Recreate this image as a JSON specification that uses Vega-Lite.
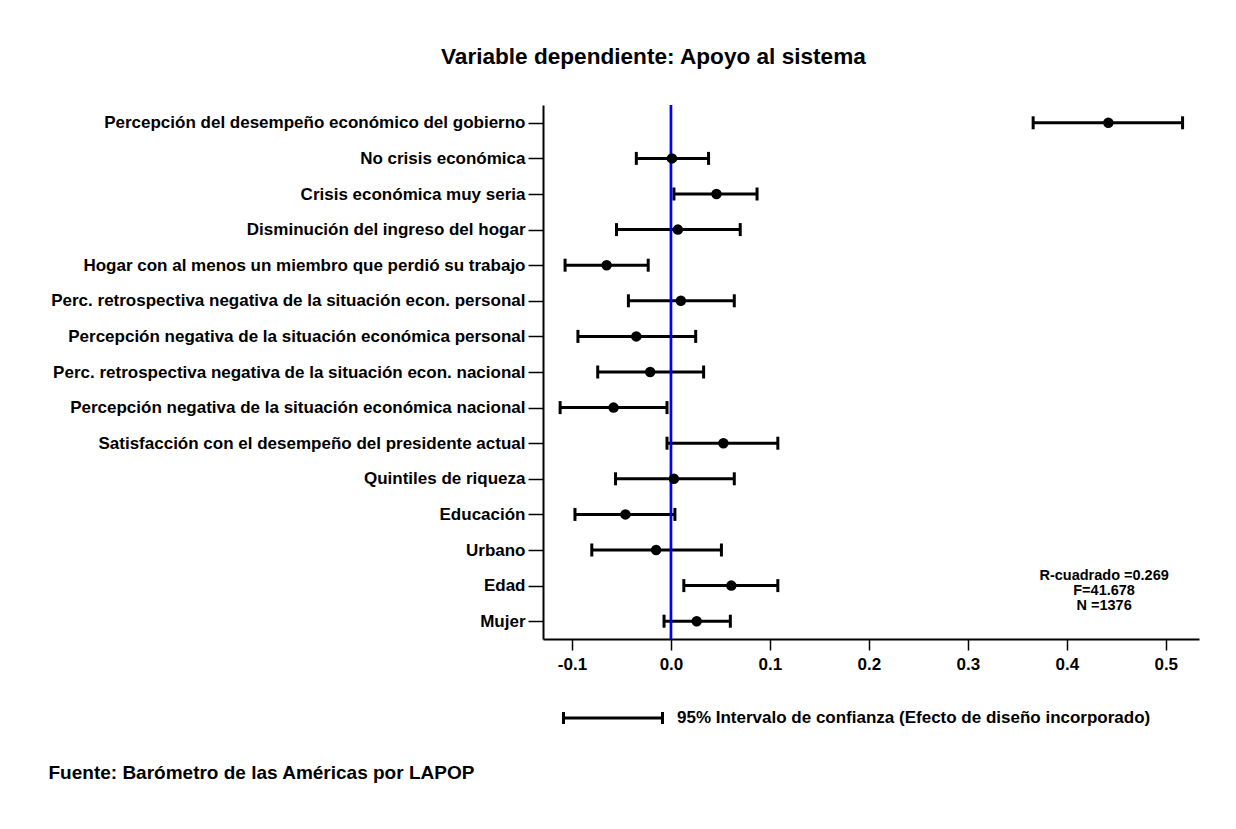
{
  "$schema": "https://vega.github.io/schema/vega-lite/v6.json",
  "width": 656,
  "height": 534,
  "autosize": "none",
  "padding": {"left": 543, "top": 105, "right": 37, "bottom": 190},
  "background": "white",
  "config": {"view": {"stroke": null}, "font": "Liberation Sans"},
  "title": {
    "text": "Variable dependiente: Apoyo al sistema",
    "anchor": "start",
    "frame": "group",
    "dx": -102,
    "offset": 17,
    "baseline": "alphabetic",
    "fontSize": 22.6,
    "fontWeight": "bold",
    "font": "Liberation Sans",
    "color": "black"
  },
  "datasets": {
    "coef": [
      {"var": "Percepción del desempeño económico del gobierno", "est": 0.442, "lo": 0.366, "hi": 0.517, "ci": "95% Intervalo de confianza (Efecto de diseño incorporado)"},
      {"var": "No crisis económica", "est": 0.001, "lo": -0.035, "hi": 0.038, "ci": "95% Intervalo de confianza (Efecto de diseño incorporado)"},
      {"var": "Crisis económica muy seria", "est": 0.046, "lo": 0.003, "hi": 0.087, "ci": "95% Intervalo de confianza (Efecto de diseño incorporado)"},
      {"var": "Disminución del ingreso del hogar", "est": 0.007, "lo": -0.055, "hi": 0.070, "ci": "95% Intervalo de confianza (Efecto de diseño incorporado)"},
      {"var": "Hogar con al menos un miembro que perdió su trabajo", "est": -0.065, "lo": -0.107, "hi": -0.023, "ci": "95% Intervalo de confianza (Efecto de diseño incorporado)"},
      {"var": "Perc. retrospectiva negativa de la situación econ. personal", "est": 0.010, "lo": -0.043, "hi": 0.064, "ci": "95% Intervalo de confianza (Efecto de diseño incorporado)"},
      {"var": "Percepción negativa de la situación económica personal", "est": -0.035, "lo": -0.094, "hi": 0.025, "ci": "95% Intervalo de confianza (Efecto de diseño incorporado)"},
      {"var": "Perc. retrospectiva negativa de la situación econ. nacional", "est": -0.021, "lo": -0.074, "hi": 0.033, "ci": "95% Intervalo de confianza (Efecto de diseño incorporado)"},
      {"var": "Percepción negativa de la situación económica nacional", "est": -0.058, "lo": -0.112, "hi": -0.004, "ci": "95% Intervalo de confianza (Efecto de diseño incorporado)"},
      {"var": "Satisfacción con el desempeño del presidente actual", "est": 0.053, "lo": -0.004, "hi": 0.108, "ci": "95% Intervalo de confianza (Efecto de diseño incorporado)"},
      {"var": "Quintiles de riqueza", "est": 0.003, "lo": -0.056, "hi": 0.064, "ci": "95% Intervalo de confianza (Efecto de diseño incorporado)"},
      {"var": "Educación", "est": -0.046, "lo": -0.097, "hi": 0.004, "ci": "95% Intervalo de confianza (Efecto de diseño incorporado)"},
      {"var": "Urbano", "est": -0.015, "lo": -0.080, "hi": 0.051, "ci": "95% Intervalo de confianza (Efecto de diseño incorporado)"},
      {"var": "Edad", "est": 0.061, "lo": 0.013, "hi": 0.108, "ci": "95% Intervalo de confianza (Efecto de diseño incorporado)"},
      {"var": "Mujer", "est": 0.026, "lo": -0.007, "hi": 0.060, "ci": "95% Intervalo de confianza (Efecto de diseño incorporado)"}
    ],
    "ref": [{"zero": 0}],
    "stats": [{"var": "Edad", "xpos": 0.4377, "txt": "R-cuadrado =0.269\nF=41.678\nN =1376"}]
  },
  "encoding": {
    "y": {
      "field": "var",
      "type": "nominal",
      "sort": null,
      "scale": {
        "type": "point",
        "padding": 0.5,
        "domain": [
          "Percepción del desempeño económico del gobierno",
          "No crisis económica",
          "Crisis económica muy seria",
          "Disminución del ingreso del hogar",
          "Hogar con al menos un miembro que perdió su trabajo",
          "Perc. retrospectiva negativa de la situación econ. personal",
          "Percepción negativa de la situación económica personal",
          "Perc. retrospectiva negativa de la situación econ. nacional",
          "Percepción negativa de la situación económica nacional",
          "Satisfacción con el desempeño del presidente actual",
          "Quintiles de riqueza",
          "Educación",
          "Urbano",
          "Edad",
          "Mujer"
        ]
      },
      "axis": {
        "title": null,
        "grid": false,
        "domainColor": "black",
        "domainWidth": 2,
        "tickColor": "black",
        "tickSize": 15,
        "tickWidth": 1.5,
        "labelFontSize": 17,
        "labelFontWeight": "bold",
        "labelColor": "black",
        "labelFont": "Liberation Sans",
        "labelPadding": 3,
        "labelLimit": 0
      }
    }
  },
  "layer": [
    {
      "data": {"name": "coef"},
      "mark": {"type": "rule", "strokeWidth": 3},
      "encoding": {
        "x": {
          "field": "lo",
          "type": "quantitative",
          "scale": {"domain": [-0.1293, 0.5336], "nice": false, "zero": false},
          "axis": {
            "values": [-0.1, 0, 0.1, 0.2, 0.3, 0.4, 0.5],
            "format": ".1f",
            "labelExpr": "replace(datum.label, '−', '-')",
            "grid": false,
            "domainColor": "black",
            "domainWidth": 2,
            "tickColor": "black",
            "tickSize": 11,
            "tickWidth": 1.5,
            "labelFontSize": 17,
            "labelFontWeight": "bold",
            "labelColor": "black",
            "labelFont": "Liberation Sans",
            "labelPadding": 6,
            "title": "Fuente: Barómetro de las Américas por LAPOP",
            "titleX": -495,
            "titleY": 139,
            "titleAlign": "left",
            "titleAnchor": "start",
            "titleBaseline": "alphabetic",
            "titleFontSize": 19,
            "titleFontWeight": "bold",
            "titleColor": "black",
            "titleFont": "Liberation Sans"
          }
        },
        "x2": {"field": "hi"},
        "color": {
          "field": "ci",
          "type": "nominal",
          "scale": {"range": ["black"]},
          "legend": {
            "orient": "none",
            "legendX": 19,
            "legendY": 562,
            "title": null,
            "padding": 0,
            "symbolType": "M-1,0H1M-1,-0.12V0.12M1,-0.12V0.12",
            "symbolSize": 9801,
            "symbolStrokeWidth": 3,
            "symbolStrokeColor": "black",
            "symbolFillColor": "transparent",
            "labelFontSize": 17,
            "labelFontWeight": "bold",
            "labelColor": "black",
            "labelFont": "Liberation Sans",
            "labelOffset": 13,
            "labelLimit": 0
          }
        }
      }
    },
    {
      "data": {"name": "coef"},
      "mark": {"type": "tick", "orient": "vertical", "size": 13, "thickness": 3, "color": "black", "opacity": 1},
      "encoding": {"x": {"field": "lo", "type": "quantitative"}}
    },
    {
      "data": {"name": "coef"},
      "mark": {"type": "tick", "orient": "vertical", "size": 13, "thickness": 3, "color": "black", "opacity": 1},
      "encoding": {"x": {"field": "hi", "type": "quantitative"}}
    },
    {
      "data": {"name": "ref"},
      "mark": {"type": "rule", "color": "#0000ff", "strokeWidth": 2.7},
      "encoding": {"x": {"field": "zero", "type": "quantitative"}, "y": null}
    },
    {
      "data": {"name": "coef"},
      "mark": {"type": "circle", "size": 110, "color": "black", "opacity": 1},
      "encoding": {"x": {"field": "est", "type": "quantitative"}}
    },
    {
      "data": {"name": "stats"},
      "mark": {"type": "text", "lineBreak": "\n", "lineHeight": 15, "fontSize": 14.5, "fontWeight": "bold", "font": "Liberation Sans", "color": "black", "align": "center", "baseline": "middle", "dy": -10},
      "encoding": {
        "x": {"field": "xpos", "type": "quantitative"},
        "text": {"field": "txt", "type": "nominal"}
      }
    }
  ]
}
